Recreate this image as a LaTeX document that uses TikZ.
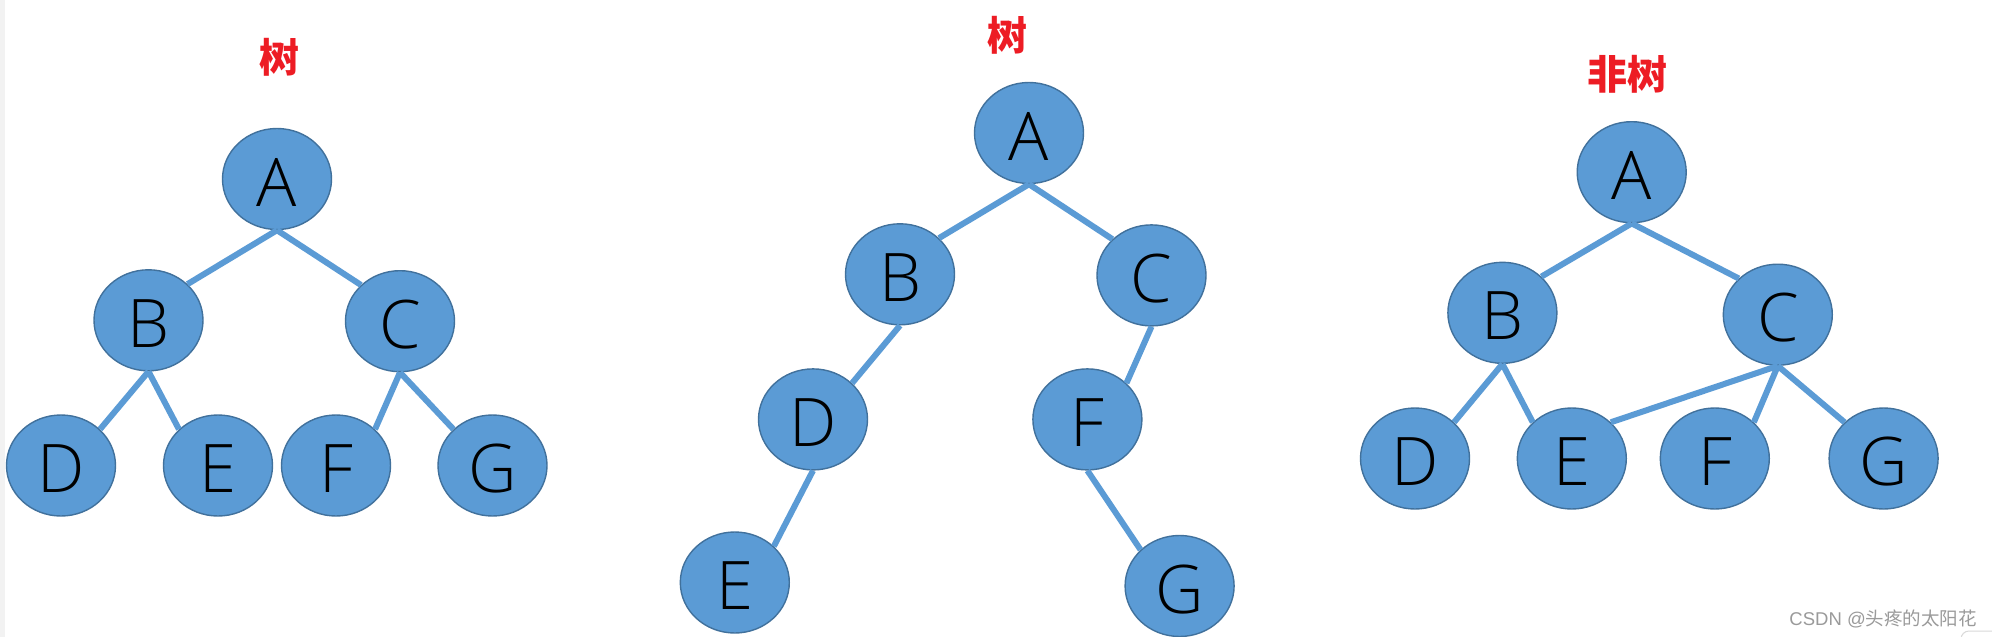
\documentclass[tikz,border=0pt]{standalone}
\usepackage{fontspec}
\setmainfont{Liberation Sans}
\newfontfamily\cjk{Noto Sans CJK SC}
\newfontfamily\letterfont{Open Sans Light}
\usetikzlibrary{shapes.geometric}
\definecolor{nodefill}{HTML}{5B9BD5}
\definecolor{nodeborder}{HTML}{41719C}
\definecolor{titlered}{HTML}{ED1C24}
\definecolor{wmgray}{HTML}{9A9A9A}
\definecolor{stripgray}{HTML}{F2F2F2}
\tikzset{
  vertex/.style={ellipse, draw=nodeborder, line width=1.4pt, fill=nodefill,
    minimum width=109pt, minimum height=101pt, inner sep=0pt,
    font=\letterfont\fontsize{67}{67}\selectfont, text height=54pt, text depth=0pt},
  edge/.style={draw=nodefill, line width=6pt},
  title/.style={text=titlered, font=\cjk\bfseries\fontsize{40}{40}\selectfont, inner sep=0pt},
  watermark/.style={text=wmgray, font=\fontsize{18.5}{18.5}\selectfont, inner sep=0pt}
}
\begin{document}
\begin{tikzpicture}[x=1pt,y=-1pt]
\useasboundingbox (0,0) rectangle (1992,637);
\fill[white] (0,0) rectangle (1992,637);
\fill[stripgray] (0,0) rectangle (4.5,637);

% left tree
\node[title] (t1) at (279,57) {树};
\node[vertex] (lA) at (277,179) {A};
\node[vertex] (lB) at (148.5,320.3) {B};
\node[vertex] (lC) at (400,321.2) {C};
\node[vertex] (lD) at (61,465.5) {D};
\node[vertex] (lE) at (218,465.5) {E};
\node[vertex] (lF) at (336,465.5) {F};
\node[vertex] (lG) at (492.5,465.5) {G};
\draw[edge] (lA.south) -- (lB.north east);
\draw[edge] (lA.south) -- (lC.north west);
\draw[edge] (lB.south) -- (lD.north east);
\draw[edge] (lB.south) -- (lE.north west);
\draw[edge] (lC.south) -- (lF.north east);
\draw[edge] (lC.south) -- (lG.north west);

% middle tree
\node[title] (t2) at (1007,35) {树};
\node[vertex] (mA) at (1029,133) {A};
\node[vertex] (mB) at (900,274.3) {B};
\node[vertex] (mC) at (1151.5,275.4) {C};
\node[vertex] (mD) at (813,419.4) {D};
\node[vertex] (mF) at (1087.4,419.4) {F};
\node[vertex] (mE) at (734.8,582.5) {E};
\node[vertex] (mG) at (1179.6,586) {G};
\draw[edge] (mA.south) -- (mB.north east);
\draw[edge] (mA.south) -- (mC.north west);
\draw[edge] (mB.south) -- (mD.north east);
\draw[edge] (mC.south) -- (mF.north east);
\draw[edge] (mD.south) -- (mE.north east);
\draw[edge] (mF.south) -- (mG.north west);

% right graph
\node[title] (t3) at (1627.5,74.7) {非树};
\node[vertex] (rA) at (1631.7,172.2) {A};
\node[vertex] (rB) at (1502.4,312.8) {B};
\node[vertex] (rC) at (1777.8,314.7) {C};
\node[vertex] (rD) at (1415,458.5) {D};
\node[vertex] (rE) at (1571.8,458.5) {E};
\node[vertex] (rF) at (1714.8,458.5) {F};
\node[vertex] (rG) at (1883.6,458.5) {G};
\draw[edge] (rA.south) -- (rB.north east);
\draw[edge] (rA.south) -- (rC.north west);
\draw[edge] (rB.south) -- (rD.north east);
\draw[edge] (rB.south) -- (rE.north west);
\draw[edge] (rC.south) -- (rE.north east);
\draw[edge] (rC.south) -- (rF.north east);
\draw[edge] (rC.south) -- (rG.north west);

% watermark
\node[watermark, anchor=east] (wm) at (1977,618.5) {CSDN @{\cjk 头疼的太阳花}};
\draw[draw=black!15, line width=1pt, rounded corners=8pt] (1961,650) -- (1961,631) -- (2010,631);
\end{tikzpicture}
\end{document}
